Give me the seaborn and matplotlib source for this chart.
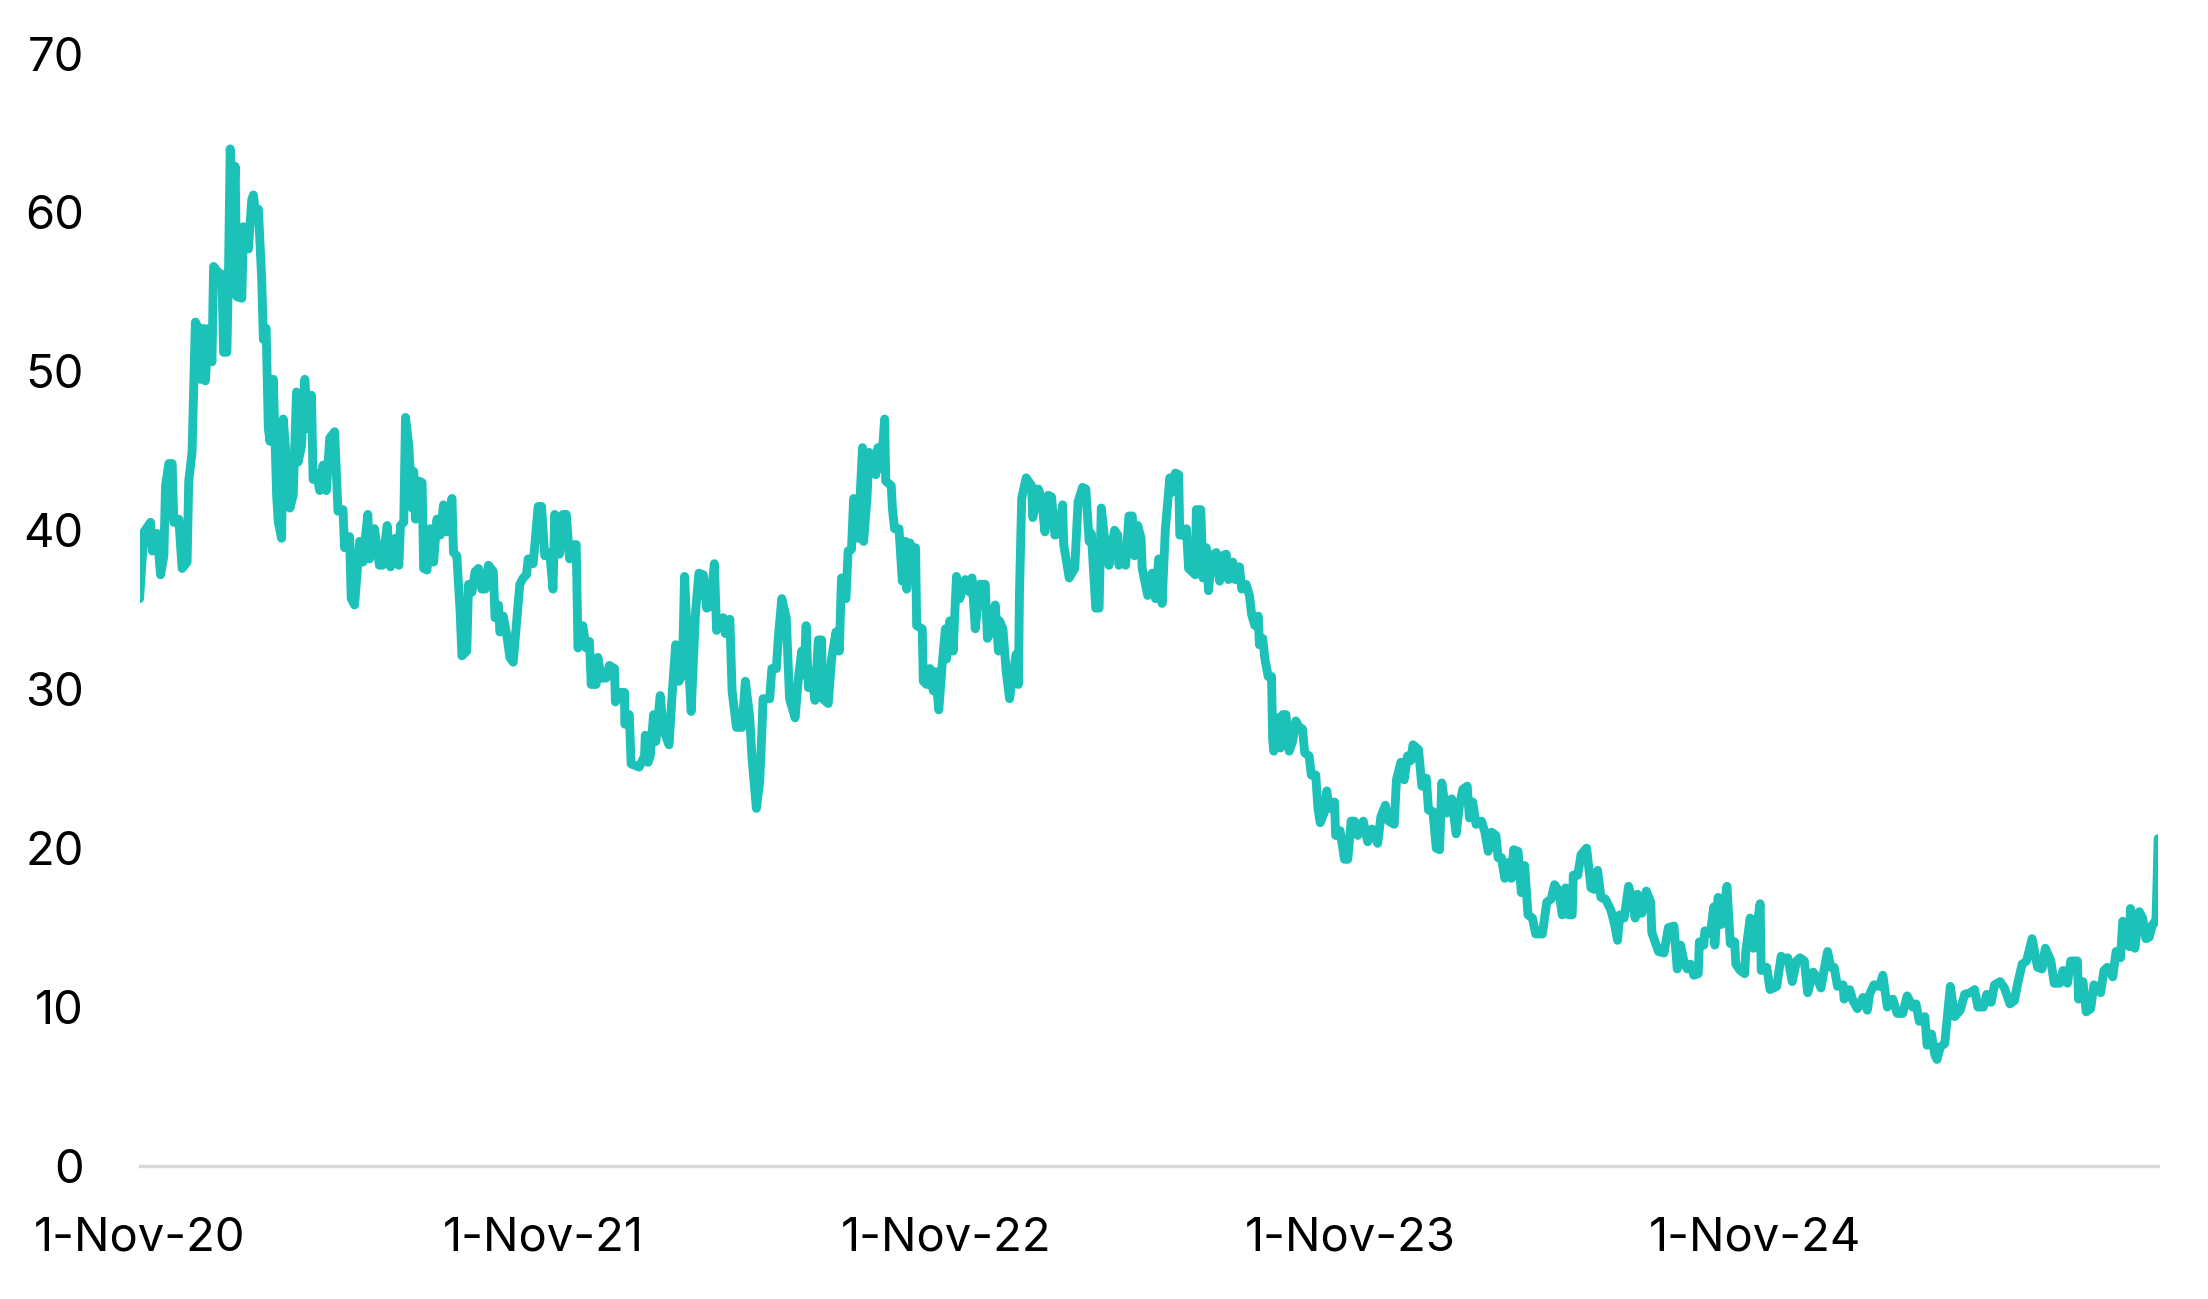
import pandas as pd
import matplotlib
matplotlib.use("Agg")
import matplotlib.pyplot as plt
import seaborn as sns

sns.set_style("white")
plt.rcParams["font.family"] = ["Inter", "DejaVu Sans"]

START = pd.Timestamp("2020-11-01")

# days since 1-Nov-20
day_offset = [
    0, 4, 10, 11.5, 16, 19, 22, 23.5, 26.5, 29.5, 31, 35.5, 38.5, 43, 44.5, 47.5, 50.5, 53.5, 55, 58,
    59.5, 62.5, 65.5, 67, 71.5, 74.5, 76, 79, 80.5, 82, 85, 86.5, 88, 92.5, 94, 97, 98.5, 101.5, 103, 104.5,
    107.5, 110.5, 112, 114.5, 116.5, 118, 121, 124, 125.5, 128.5, 130, 133, 136, 139, 142, 143.5, 146.5, 149.5, 152.5, 155.5,
    157, 160, 163, 166, 169, 172, 176.5, 179.5, 184, 185.5, 190, 191.5, 194.5, 199, 202, 206.5, 208, 212.5, 217,
    219.6, 224, 227, 231.6, 234.6, 236, 239, 240.6, 243.6, 246.6, 248, 249.6, 252.6, 255.6, 257, 260, 263, 266, 269, 272,
    275, 278, 282.6, 284, 287, 290, 291.6, 296, 297.6, 300.6, 303.6, 306.6, 309.6, 312.6, 315.6, 320, 321.6, 324.6, 326, 329,
    332, 335, 338, 339.6, 344, 347, 350, 351.6, 356, 357.6, 360.6, 363.6, 366.6, 371, 374, 375.6, 380, 383, 386, 389,
    393.6, 395, 396.6, 401, 404, 407, 408.6, 413, 414.6, 417.6, 422, 425, 429.6, 430.5, 435.7, 438.7, 439, 443, 444.7, 452,
    456.8, 457.5,
    460, 462, 465, 467, 471, 474, 479, 482, 485, 488, 491, 493, 496, 499, 503, 506, 510, 513, 516, 520,
    522, 528, 530, 534, 536, 540, 545, 548, 552, 554, 558, 561, 563, 564, 570, 572, 576, 578, 581, 585,
    588, 593, 596, 599, 601, 603, 605, 608, 611, 614, 617, 618, 623, 626, 630, 633, 635, 639, 641, 644,
    646, 650, 654, 655, 658, 660, 663, 666, 668, 671, 674, 675, 680, 681, 683, 687,
    690, 693, 694, 697, 699, 702, 703, 708, 709, 712, 715, 718, 720, 723, 726, 729, 730, 733, 736, 739,
    742, 747, 751, 753, 756, 760, 765, 767, 771, 774, 777, 778, 781, 784, 787, 790, 793, 795, 796, 798,
    802, 807, 808, 813, 816, 819, 822, 825, 828, 832, 835, 836, 841, 846, 849, 853, 856, 859, 861, 865,
    868, 870, 873, 877, 882, 885, 886, 889, 892, 895, 898, 900, 903, 906, 907, 912, 916, 919, 922,
    925, 928, 932, 934, 937, 940, 941, 944, 947, 949, 952, 955, 956, 960, 962, 965, 967, 970, 974, 977,
    980, 983, 985, 989, 991, 995, 997, 1001, 1004, 1006, 1009, 1012, 1013, 1016, 1018, 1021, 1024, 1025, 1026, 1029,
    1032, 1034, 1037, 1040, 1043, 1046, 1049, 1052, 1054, 1058, 1060, 1064, 1066, 1068, 1072, 1074, 1076, 1081, 1082, 1086,
    1090, 1093, 1096, 1099, 1102, 1107, 1111, 1115, 1120, 1123, 1127, 1130, 1135, 1137, 1141, 1144, 1147,
    1150, 1152, 1157, 1160, 1164, 1166, 1170, 1173, 1176, 1178, 1182, 1187, 1191, 1194, 1197, 1201, 1203, 1206, 1209, 1214,
    1217, 1220, 1223, 1227, 1229, 1232, 1235, 1238, 1241, 1243, 1247, 1250, 1253, 1256, 1260, 1263, 1269, 1273, 1277, 1280,
    1284, 1287, 1290, 1293, 1296, 1297, 1301, 1304, 1309, 1313, 1316, 1319, 1322, 1326, 1331, 1334, 1337, 1339, 1343, 1347,
    1350, 1353, 1355, 1359, 1363, 1367, 1368, 1374, 1379,
    1383, 1388, 1391, 1394, 1397, 1400, 1403, 1406, 1410, 1411, 1415, 1416, 1421, 1424, 1425, 1428, 1431, 1436, 1439, 1443,
    1444, 1448, 1452, 1453, 1457, 1460, 1466, 1467, 1472, 1475, 1481, 1485, 1488, 1491, 1495, 1499, 1502, 1506, 1509, 1514,
    1517, 1521, 1524, 1527, 1530, 1533, 1536, 1541, 1542, 1547, 1550, 1554, 1559, 1563, 1565, 1569, 1574, 1577, 1581, 1586,
    1590, 1595, 1599, 1604, 1607, 1610,
    1615, 1617, 1621, 1624, 1626, 1629, 1633, 1638, 1642, 1647, 1651, 1656, 1660, 1663, 1668, 1671, 1675, 1678, 1683, 1687,
    1692, 1696, 1699, 1703, 1707, 1712, 1717, 1721, 1724, 1729, 1732, 1737, 1740, 1744, 1747, 1753, 1754, 1758, 1761, 1765,
    1768, 1774, 1777, 1780, 1785, 1788, 1792, 1794, 1797, 1800, 1801, 1805, 1809, 1812, 1815, 1818, 1821, 1824, 1825, 1826,
]

values = [
    35.7, 39.9, 40.5, 38.7, 39.8, 37.2, 38.4, 42.8, 44.2, 44.2, 40.5, 40.7, 37.6, 38.0, 43.1, 44.9, 53.1, 52.7, 49.5, 52.7,
    49.4, 52.7, 50.6, 56.6, 56.2, 56.1, 51.2, 51.2, 56.4, 64.0, 60.4, 62.9, 54.7, 54.6, 59.1, 59.0, 57.7, 60.8, 61.1, 60.2,
    60.2, 55.8, 52.0, 52.7, 46.4, 45.6, 49.5, 42.2, 40.5, 39.5, 47.0, 44.3, 41.4, 42.2, 48.7, 44.3, 45.3, 49.5, 46.4, 48.5,
    43.2, 43.6, 42.5, 44.1, 42.5, 45.8, 46.2, 41.2, 41.3, 38.9, 39.6, 35.7, 35.3, 39.3, 38.0, 41.0, 38.2, 40.1, 37.8,
    37.8, 40.3, 37.7, 39.5, 37.8, 40.3, 40.5, 47.1, 45.3, 41.4, 43.7, 40.7, 43.1, 43.0, 37.6, 37.5, 40.1, 38.0, 40.7, 39.7,
    41.6, 39.9, 42.0, 38.6, 38.4, 34.9, 32.1, 32.4, 36.6, 36.1, 37.4, 37.6, 36.3, 36.3, 37.8, 37.4, 34.5, 35.3, 33.6, 34.6,
    33.5, 32.0, 31.7, 33.0, 36.6, 37.0, 37.2, 38.2, 37.9, 39.1, 41.5, 41.5, 38.4, 38.6, 36.3, 41.0, 38.5, 41.0, 41.0, 38.2,
    39.1, 39.1, 32.6, 34.0, 32.6, 33.0, 30.3, 30.3, 32.0, 30.7, 30.7, 31.5, 31.3, 29.2, 29.8, 29.8, 27.8, 28.4, 25.3, 25.1,
    25.8, 27.1,
    25.4, 25.8, 28.4, 26.7, 29.6, 27.4, 26.5, 29.9, 32.8, 30.5, 30.9, 37.1, 32.4, 28.6, 34.9, 37.3, 37.2, 35.1, 35.2, 37.9,
    33.7, 34.5, 33.5, 34.4, 29.9, 27.6, 27.6, 30.5, 28.2, 25.7, 22.5, 24.2, 27.4, 29.4, 29.4, 31.3, 31.3, 33.4, 35.7, 34.5,
    29.4, 28.2, 30.7, 32.4, 30.9, 34.0, 30.1, 31.1, 29.3, 33.1, 33.1, 29.4, 29.1, 31.9, 33.6, 32.4, 37.0, 35.7, 38.7, 38.8,
    42.0, 39.5, 45.2, 39.3, 42.0, 44.9, 44.7, 43.5, 45.2, 43.9, 47.0, 43.1, 42.8, 41.4, 40.1, 40.1,
    36.8, 39.3, 36.3, 39.2, 37.0, 38.9, 34.0, 33.8, 30.5, 30.3, 31.3, 29.9, 31.1, 28.7, 31.5, 33.8, 31.9, 34.3, 32.4, 37.1,
    35.7, 36.9, 36.1, 37.0, 33.8, 36.6, 36.6, 33.2, 33.8, 35.3, 32.4, 34.3, 33.8, 31.1, 29.4, 30.9, 32.2, 30.3, 36.1, 42.0,
    43.3, 42.8, 40.8, 42.6, 42.0, 39.9, 42.2, 42.1, 39.7, 39.8, 41.6, 39.1, 37.0, 37.6, 41.8, 42.7, 42.6, 39.3, 39.8, 35.1,
    35.1, 41.4, 39.5, 37.8, 40.0, 39.7, 37.8, 38.9, 37.8, 40.9, 40.9, 38.4, 40.3, 39.5, 37.6, 35.9, 37.3, 35.7, 38.2,
    35.4, 40.1, 43.3, 42.4, 43.6, 43.5, 39.7, 39.7, 40.1, 37.6, 37.4, 37.2, 41.3, 41.3, 37.0, 38.9, 36.2, 38.4, 38.6, 36.8,
    38.4, 38.5, 36.9, 38.0, 36.9, 37.7, 36.3, 36.6, 35.9, 34.7, 34.0, 34.6, 32.8, 33.2, 31.9, 30.8, 30.8, 26.9, 26.1, 28.2,
    26.3, 28.4, 28.4, 26.1, 26.7, 28.0, 27.6, 27.5, 26.0, 25.8, 24.6, 24.6, 22.5, 21.6, 22.3, 23.6, 22.5, 22.9, 20.8, 21.1,
    19.3, 19.3, 21.7, 21.7, 20.8, 21.7, 20.4, 21.2, 20.3, 22.0, 22.7, 21.7, 21.5, 24.3, 25.4, 24.3, 25.8,
    25.5, 26.5, 26.2, 23.9, 24.4, 22.4, 22.3, 20.0, 19.9, 24.1, 22.2, 23.1, 20.9, 22.7, 23.7, 23.9, 21.9, 22.9, 21.5, 21.7,
    21.0, 19.8, 21.0, 20.8, 19.4, 19.4, 18.1, 19.1, 18.1, 19.9, 19.8, 17.2, 18.9, 15.8, 15.6, 14.6, 14.6, 16.6, 16.8, 17.7,
    17.3, 15.8, 17.5, 15.8, 15.8, 18.3, 18.3, 19.6, 20.0, 17.5, 17.4, 18.6, 16.9, 16.8, 16.1, 15.3, 14.2, 15.8, 15.6, 17.6,
    16.8, 15.6, 17.1, 15.9, 17.3, 16.6, 14.7, 13.5, 13.4,
    15.0, 15.1, 12.4, 13.9, 12.9, 12.4, 12.7, 12.0, 12.1, 14.1, 13.9, 14.8, 14.6, 16.3, 13.9, 16.9, 15.2, 17.6, 14.0, 14.1,
    12.7, 12.3, 12.1, 13.5, 15.6, 13.7, 16.5, 12.3, 12.5, 11.1, 11.3, 13.2, 13.0, 13.1, 11.6, 12.9, 13.1, 12.9, 10.9, 12.2,
    11.9, 11.2, 12.4, 13.5, 12.5, 12.5, 11.3, 11.4, 10.5, 11.1, 10.4, 9.9, 10.6, 9.8, 10.8, 11.4, 11.3, 12.0, 10.0, 10.5,
    9.6, 9.6, 10.7, 10.0, 10.2, 9.1,
    9.4, 7.6, 8.3, 7.0, 6.7, 7.5, 7.7, 11.3, 9.4, 9.8, 10.8, 10.9, 11.1, 10.0, 10.0, 10.8, 10.3, 11.4, 11.6, 11.2,
    10.2, 10.4, 11.5, 12.7, 12.9, 14.3, 12.5, 12.4, 13.7, 12.9, 11.5, 11.5, 12.3, 11.5, 12.9, 12.9, 10.5, 11.6, 9.7, 9.9,
    11.4, 10.9, 12.3, 12.5, 11.9, 13.5, 13.1, 15.4, 15.2, 13.8, 16.2, 13.7, 16.0, 15.6, 14.3, 14.4, 15.2, 15.4, 17.7, 20.6,
]

tick_dates = ["2020-11-01", "2021-11-01", "2022-11-01", "2023-11-01", "2024-11-01", "2025-11-01"]
tick_labels = ["1-Nov-20", "1-Nov-21", "1-Nov-22", "1-Nov-23", "1-Nov-24", ""]
y_ticks = [0, 10, 20, 30, 40, 50, 60, 70]

df = pd.DataFrame({
    "date": START + pd.to_timedelta(day_offset, unit="D"),
    "value": values,
})

fig = plt.figure(figsize=(11.04, 6.495), dpi=200)
ax = fig.add_axes([0.0632, 0.1024, 0.9142, 0.8564])

sns.lineplot(data=df, x="date", y="value", ax=ax, color="#1cc2b8",
             linewidth=3.2, estimator=None, sort=False)

ax.set_xlim(pd.Timestamp(tick_dates[0]), pd.Timestamp(tick_dates[-1]))
ax.set_ylim(0, 70)
ax.set_xticks(pd.to_datetime(tick_dates))
ax.set_xticklabels(tick_labels)
ax.set_yticks(y_ticks)
ax.set_xlabel("")
ax.set_ylabel("")

for side in ["top", "right", "left"]:
    ax.spines[side].set_visible(False)
ax.spines["bottom"].set_color("#d9d9d9")
ax.spines["bottom"].set_linewidth(1.2)
ax.spines["bottom"].set_zorder(0)

ax.tick_params(axis="x", colors="#d9d9d9", length=6.2, width=0.9, pad=12,
               labelcolor="black", labelsize=17)
ax.tick_params(axis="y", length=0, pad=20, labelcolor="black", labelsize=17)
ax.grid(False)

fig.savefig("out.png", dpi=200)
